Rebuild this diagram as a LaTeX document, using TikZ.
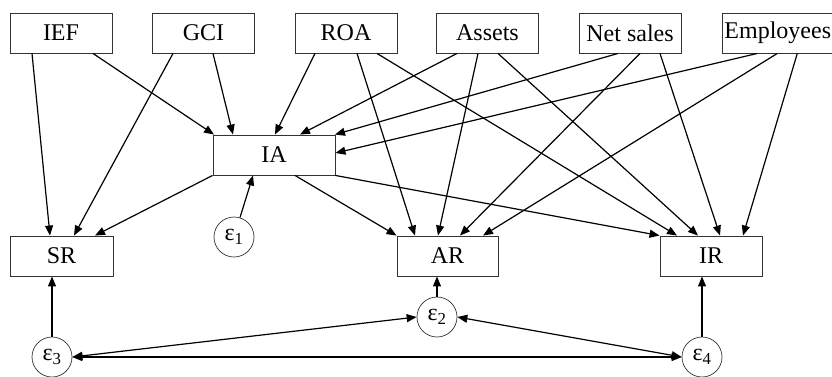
\documentclass[tikz,border=0pt]{standalone}
\usepackage{fontspec}
\setmainfont{Liberation Serif}
\usetikzlibrary{arrows.meta}
\begin{document}
\begin{tikzpicture}[x=1pt,y=-1pt,
    var/.style={draw=black!80,line width=0.9pt,minimum width=102pt,minimum height=40pt,inner sep=0pt,font=\fontsize{24}{28}\selectfont},
    err/.style={draw=black!80,circle,line width=0.7pt,minimum size=40pt,inner sep=0pt,font=\fontsize{24}{28}\selectfont},
    effect/.style={line width=1.2pt,-{Triangle[length=10pt,width=8pt]}},
    cov/.style={line width=1.2pt,{Triangle[length=10pt,width=8pt]}-{Triangle[length=10pt,width=8pt]}}]
    \useasboundingbox (0,0) rectangle (832,376);
    % observed variables
    \node[var] (IEF) at (61,33) {IEF};
    \node[var] (GCI) at (203.5,33) {GCI};
    \node[var] (ROA) at (346,33) {ROA};
    \node[var] (Assets) at (487.5,33) {Assets};
    \node[var] (Sales) at (630,33) {Net sales};
    \node[var,minimum width=0pt,inner xsep=2pt,anchor=west] (Empl) at (722,33) {Employees};
    \node[var,minimum width=122pt] (IA) at (274,155) {IA};
    \node[var,minimum width=103pt] (SR) at (61.5,256) {SR};
    \node[var,minimum width=101pt] (AR) at (447.5,256) {AR};
    \node[var] (IR) at (711,256) {IR};
    % errors
    \node[err] (e1) at (234,237) {ε\textsubscript{1}};
    \node[err] (e2) at (437,317) {ε\textsubscript{2}};
    \node[err] (e3) at (52,357) {ε\textsubscript{3}};
    \node[err] (e4) at (702,357) {ε\textsubscript{4}};
    % paths from the top row
    \foreach \a/\da/\b/\db in {IEF/-29/SR/-11.5, IEF/32/IA/-60, GCI/-30.5/SR/12.5, GCI/9.5/IA/-41,
        ROA/-31/IA/1, ROA/11/AR/-32.5, ROA/31/IR/-34, Assets/-30.5/IA/26, Assets/-9.5/AR/-9.5,
        Assets/10.5/IR/-13, Sales/-12/IA/61, Sales/10/AR/12.5, Sales/30/IR/9,
        Empl/-0.5/AR/35.5, Empl/19.5/IR/32} {
      \draw[effect] ([xshift=\da pt]\a.south) -- ([xshift=\db pt]\b.north);
    }
    \draw[effect] ([xshift=-20.5pt]Empl.south) -- ([yshift=2pt]IA.east);
    % paths from IA
    \draw[effect] (IA.south west) -- ([xshift=33.5pt]SR.north);
    \draw[effect] ([xshift=21pt]IA.south) -- (AR.north west);
    \draw[effect] (IA.south east) -- (IR.north west);
    % error terms
    \draw[effect] (e1) -- ([xshift=-21pt]IA.south);
    \draw[effect] (e2.north) -- (e2.north |- AR.south);
    \draw[effect] (e3.north) -- (e3.north |- SR.south);
    \draw[effect] (e4.north) -- (e4.north |- IR.south);
    \draw[cov] (e3.east) -- (e2.west);
    \draw[cov] (e3.east) -- (e4.west);
    \draw[cov] (e2.east) -- (e4.west);
\end{tikzpicture}
\end{document}
